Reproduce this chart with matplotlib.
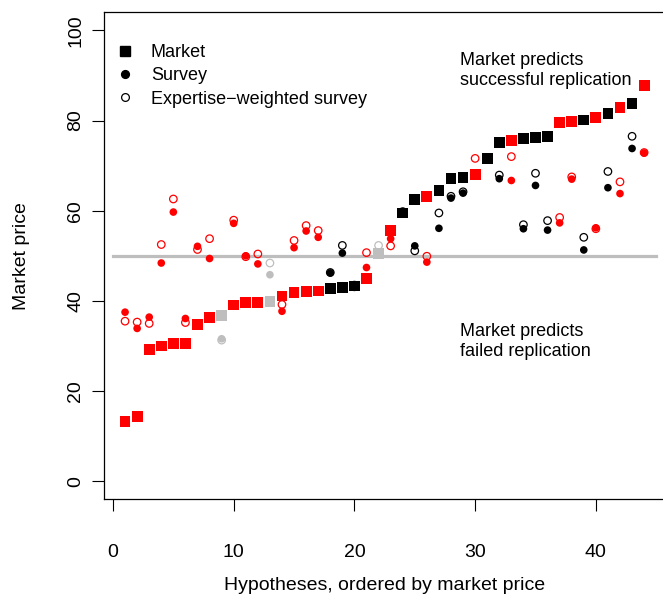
import matplotlib.pyplot as plt
from matplotlib.lines import Line2D
import numpy as np

plt.rcParams['font.family'] = ['Liberation Sans', 'DejaVu Sans']

# hypotheses ordered by final market price
market = [13.3, 14.4, 29.2, 30.0, 30.5, 30.5, 34.7, 36.3, 36.7, 39.1, 39.7,
          39.7, 39.8, 41.1, 41.8, 42.0, 42.2, 42.8, 42.9, 43.3, 44.9, 50.6,
          55.6, 59.5, 62.5, 63.2, 64.5, 67.2, 67.4, 68.1, 71.5, 75.1, 75.5,
          76.0, 76.2, 76.4, 79.5, 79.7, 80.1, 80.6, 81.5, 82.8, 83.7, 87.7]
survey = [37.5, 33.9, 36.4, 48.4, 59.7, 36.1, 52.1, 49.4, 31.6, 57.2, 50.0,
          48.2, 45.8, 37.7, 51.8, 55.5, 54.1, 46.2, 50.6, 43.0, 47.4, 50.8,
          53.8, 59.3, 52.2, 48.6, 56.1, 62.8, 63.9, 68.3, 71.3, 67.1, 66.7,
          56.0, 65.6, 55.7, 57.3, 67.0, 51.3, 56.2, 65.1, 63.8, 73.8, 72.8]
weighted = [35.5, 35.3, 35.0, 52.5, 62.6, 35.2, 51.4, 53.8, 31.3, 57.9, 49.8,
            50.4, 48.4, 39.2, 53.4, 56.7, 55.6, 46.3, 52.3, 43.5, 50.7, 52.3,
            52.2, 59.8, 51.1, 49.9, 59.5, 63.2, 64.2, 71.6, 71.8, 67.9, 72.0,
            56.9, 68.3, 57.8, 58.5, 67.5, 54.1, 56.0, 68.7, 66.4, 76.5, 72.9]
outcome = ['failed'] * 8 + ['unfinished'] + ['failed'] * 3 + ['unfinished'] + \
          ['failed'] * 4 + ['replicated'] * 3 + ['failed', 'unfinished', 'failed',
          'replicated', 'replicated', 'failed', 'replicated', 'replicated',
          'replicated', 'failed', 'replicated', 'replicated', 'failed',
          'replicated', 'replicated', 'replicated', 'failed', 'failed',
          'replicated', 'failed', 'replicated', 'failed', 'replicated', 'failed']

col_map = {'failed': '#FF0000', 'replicated': '#000000', 'unfinished': '#BEBEBE'}
cols = [col_map[o] for o in outcome]
x = np.arange(1, len(market) + 1)

fig = plt.figure(figsize=(6.63, 5.95), dpi=100)
W, H = 663.0, 595.0
ax = fig.add_axes([104.3 / W, 1 - 499.3 / H, (664.9 - 104.3) / W, (499.3 - 12.3) / H])

ax.plot([0, 45], [50, 50], color='#BEBEBE', lw=2.3, zorder=1)
ax.scatter(x, market, marker='s', s=7.8 ** 2, c=cols, linewidths=0, zorder=2)
ax.scatter(x, survey, marker='o', s=5.5 ** 2, c=cols, linewidths=0, zorder=3)
ax.scatter(x, weighted, marker='o', s=5.4 ** 2, facecolors='none', edgecolors=cols,
           linewidths=0.9, zorder=4)

ax.set_xlim(-0.72, 45.72)
ax.set_ylim(-4, 104)
ax.set_xticks([0, 10, 20, 30, 40])
ax.set_yticks([0, 20, 40, 60, 80, 100])
ax.tick_params(length=8.6, width=0.8, labelsize=14, color='black')
ax.tick_params(axis='x', pad=23.5)
ax.tick_params(axis='y', pad=6)
for lab in ax.get_yticklabels():
    lab.set_rotation(90)
    lab.set_va('center')
for sp in ax.spines.values():
    sp.set_linewidth(0.9)
ax.spines['right'].set_visible(False)

fig.text(384.6 / W, 1 - 585 / H, 'Hypotheses, ordered by market price',
         ha='center', va='center', fontsize=14)
fig.text(21.7 / W, 1 - 255.8 / H, 'Market price', ha='center', va='center',
         rotation=90, fontsize=14)

ax.text(28.75, 91.0, 'Market predicts\nsuccessful replication', ha='left',
        va='center', fontsize=13, linespacing=1.22)
ax.text(28.75, 30.9, 'Market predicts\nfailed replication', ha='left',
        va='center', fontsize=13, linespacing=1.22)

handles = [Line2D([], [], ls='none', marker='s', ms=7.6, color='black'),
           Line2D([], [], ls='none', marker='o', ms=5.6, color='black'),
           Line2D([], [], ls='none', marker='o', ms=5.6, mfc='none', mec='black', mew=0.9)]
labels = ['Market', 'Survey', 'Expertise\u2212weighted survey']
ax.legend(handles, labels, loc='upper left', frameon=False, fontsize=13,
          bbox_to_anchor=((115.5 - 104.3) / (664.9 - 104.3), (499.3 - 44) / 487.0),
          borderpad=0, borderaxespad=0, handlelength=1.0, handletextpad=0.95,
          labelspacing=0.35)

fig.savefig('out.png', dpi=100)
